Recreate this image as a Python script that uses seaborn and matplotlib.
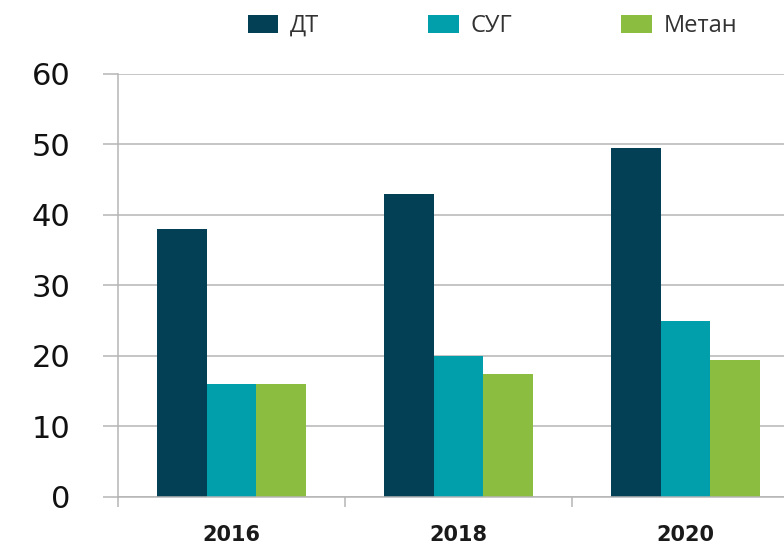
import pandas as pd
import matplotlib.pyplot as plt
import seaborn as sns
from matplotlib.ticker import FixedLocator

# Данные
years = ["2016", "2018", "2020"]
fuels = ["ДТ", "СУГ", "Метан"]
dt_vals = [38, 43, 49.5]
sug_vals = [16, 20, 25]
metan_vals = [16, 17.5, 19.5]
colors = ["#033f55", "#009fab", "#8bbd41"]

# Длинная таблица для seaborn
df = pd.DataFrame({
    "year": years * 3,
    "fuel": [f for f in fuels for _ in years],
    "value": dt_vals + sug_vals + metan_vals,
})

sns.set_style("white")
plt.rcParams["font.family"] = ["DejaVu Sans"]

fig = plt.figure(figsize=(7.84, 5.44), dpi=100)
ax = fig.add_axes([0.1505, 0.0864, 0.8686, 0.7776])

sns.barplot(data=df, x="year", y="value", hue="fuel", hue_order=fuels,
            palette=colors, width=0.66, gap=0, saturation=1, ax=ax,
            edgecolor="none", linewidth=0)

ax.set_xlim(-0.5, 2.5)
ax.set_ylim(0, 60)
ax.set_yticks(range(0, 61, 10))
ax.yaxis.grid(True, color="#b5b5b5", linewidth=1.1)
ax.set_axisbelow(True)
ax.set_xlabel("")
ax.set_ylabel("")

for s in ["top", "right"]:
    ax.spines[s].set_visible(False)
for s in ["left", "bottom"]:
    ax.spines[s].set_color("#b5b5b5")
    ax.spines[s].set_linewidth(1.1)

ax.tick_params(axis="y", left=True, direction="out", length=11, width=1.1,
               color="#b5b5b5", pad=23, labelsize=22, labelcolor="#111111")
ax.tick_params(axis="x", which="major", bottom=False, length=0, pad=20)
ax.xaxis.set_minor_locator(FixedLocator([-0.5, 0.5, 1.5, 2.5]))
ax.tick_params(axis="x", which="minor", bottom=True, direction="out", length=7,
               width=1.1, color="#b5b5b5")
for lbl in ax.get_xticklabels():
    lbl.set_fontsize(15)
    lbl.set_fontweight("bold")
    lbl.set_color("#1a1a1a")

# Легенда сверху
ax.legend_.remove()
handles, labels = ax.get_legend_handles_labels()
fig.legend(handles, labels, loc="center", bbox_to_anchor=(0.628, 0.952),
           ncol=3, frameon=False, handlelength=1.3, handleheight=0.85,
           handletextpad=0.5, columnspacing=4.6,
           prop={"family": ["Open Sans", "DejaVu Sans"], "size": 17},
           labelcolor="#333333")

fig.savefig("out.png", dpi=100)
